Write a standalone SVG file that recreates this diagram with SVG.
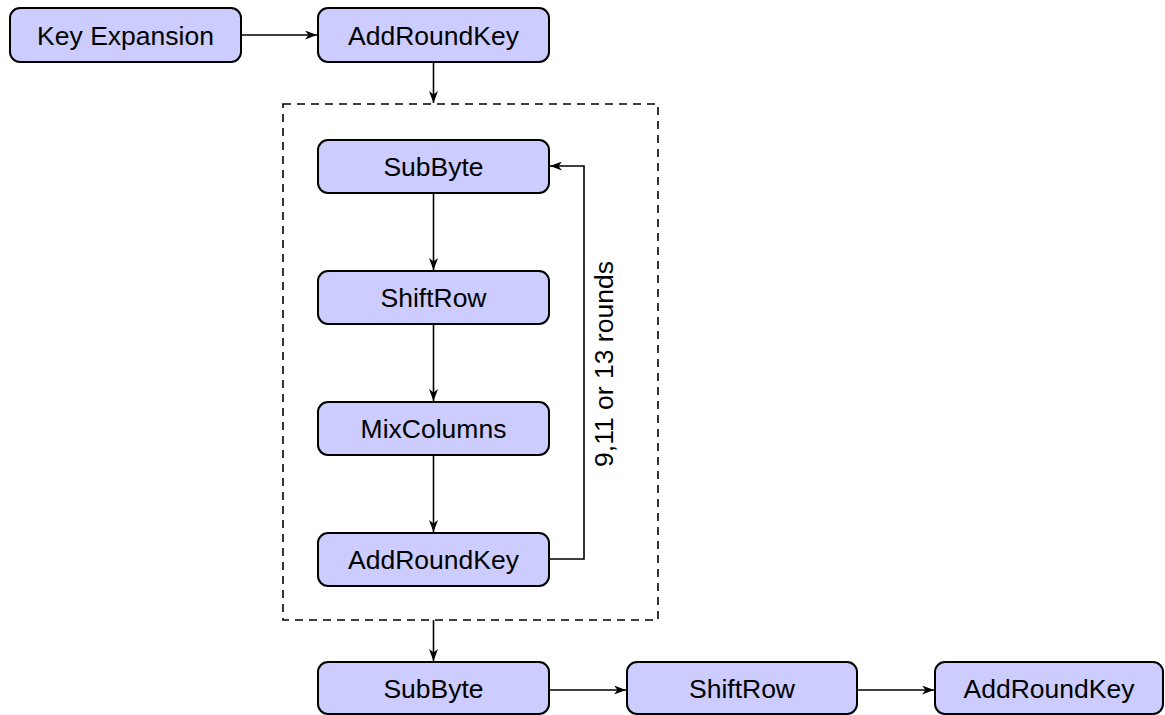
<svg xmlns="http://www.w3.org/2000/svg" width="1165" height="715" viewBox="0 0 1165 715">
<style>
.box{fill:#ccccff;stroke:#000;stroke-width:2}
.lbl{font-family:"Liberation Sans",Arial,sans-serif;font-size:26.5px;fill:#000;text-anchor:middle}
.edge{fill:none;stroke:#000;stroke-width:1.6}
.dash{fill:none;stroke:#000;stroke-width:1.6;stroke-dasharray:8,6}
</style>
<defs>
<marker id="ah" viewBox="0 0 12 9" refX="12" refY="4.5" markerWidth="12" markerHeight="9" markerUnits="userSpaceOnUse" orient="auto">
<path d="M0,0 L12,4.5 L0,9 L3.5,4.5 Z" fill="#000"/>
</marker>
</defs>
<rect class="dash" x="283" y="104" width="375" height="516"/>
<g id="connectors">
<path class="edge" d="M241,35 H317" marker-end="url(#ah)"/>
<path class="edge" d="M433.5,62 V103" marker-end="url(#ah)"/>
<path class="edge" d="M433.5,193 V270" marker-end="url(#ah)"/>
<path class="edge" d="M433.5,324 V401" marker-end="url(#ah)"/>
<path class="edge" d="M433.5,455 V532" marker-end="url(#ah)"/>
<path class="edge" d="M549,559 H584 V166 H550" marker-end="url(#ah)"/>
<path class="edge" d="M433.5,620 V661" marker-end="url(#ah)"/>
<path class="edge" d="M549,690 H626" marker-end="url(#ah)"/>
<path class="edge" d="M857,690 H934" marker-end="url(#ah)"/>
<text class="lbl" transform="translate(613,364) rotate(-90)">9,11 or 13 rounds</text>
</g>
<g id="keyexp"><rect class="box" x="10" y="8" width="231" height="54" rx="10"/><text class="lbl" x="125.5" y="44.5">Key Expansion</text></g>
<g id="ark0"><rect class="box" x="318" y="8" width="231" height="54" rx="10"/><text class="lbl" x="433.5" y="44.5">AddRoundKey</text></g>
<g id="sub1"><rect class="box" x="318" y="140" width="231" height="53" rx="10"/><text class="lbl" x="433.5" y="175.5">SubByte</text></g>
<g id="shift1"><rect class="box" x="318" y="271" width="231" height="53" rx="10"/><text class="lbl" x="433.5" y="306.5">ShiftRow</text></g>
<g id="mix1"><rect class="box" x="318" y="402" width="231" height="53" rx="10"/><text class="lbl" x="433.5" y="437.5">MixColumns</text></g>
<g id="ark1"><rect class="box" x="318" y="533" width="231" height="53" rx="10"/><text class="lbl" x="433.5" y="568.5">AddRoundKey</text></g>
<g id="sub2"><rect class="box" x="318" y="662" width="231" height="52" rx="10"/><text class="lbl" x="433.5" y="697.5">SubByte</text></g>
<g id="shift2"><rect class="box" x="627" y="662" width="230" height="52" rx="10"/><text class="lbl" x="742" y="697.5">ShiftRow</text></g>
<g id="ark2"><rect class="box" x="935" y="662" width="228" height="52" rx="10"/><text class="lbl" x="1049" y="697.5">AddRoundKey</text></g>
</svg>
